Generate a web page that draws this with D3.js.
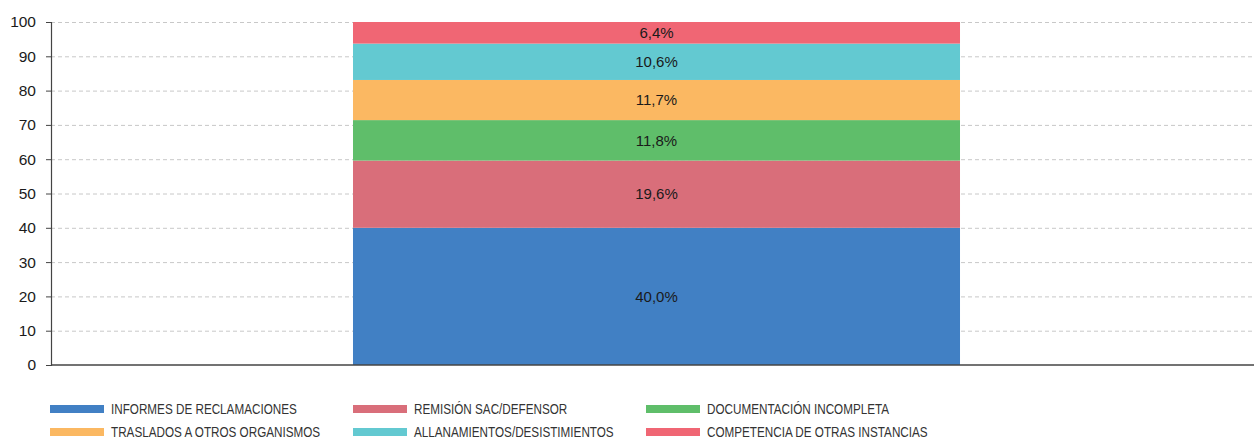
<!DOCTYPE html>
<html>
<head>
<meta charset="utf-8">
<script src="https://cdn.jsdelivr.net/npm/d3@7"></script>
<style>
  body { margin: 0; background: #fff; }
  svg text { font-family: "Liberation Sans", Arial, sans-serif; }
</style>
</head>
<body>
<div id="chart"></div>
<script>
const categories = ['INFORMES DE RECLAMACIONES', 'REMISIÓN SAC/DEFENSOR', 'DOCUMENTACIÓN INCOMPLETA',
    'TRASLADOS A OTROS ORGANISMOS', 'ALLANAMIENTOS/DESISTIMIENTOS', 'COMPETENCIA DE OTRAS INSTANCIAS']
const values = [40.0, 19.6, 11.8, 11.7, 10.6, 6.4]
const labels = ['40,0%', '19,6%', '11,8%', '11,7%', '10,6%', '6,4%']
const colors = ['#4180c4', '#d96e7a', '#5fbe6a', '#fbb862', '#63c9d1', '#f06674']
const yTicks = [0, 10, 20, 30, 40, 50, 60, 70, 80, 90, 100]

const WIDTH = 1254
const HEIGHT = 439
const MARGIN = { TOP: 22, RIGHT: 0, BOTTOM: 74, LEFT: 51 }

const svg = d3.select('#chart').append('svg')
    .attr('width', WIDTH)
    .attr('height', HEIGHT)

// band range runs slightly past the right edge so the bar sits where the original does
const x = d3.scaleBand()
    .domain(['total'])
    .range([MARGIN.LEFT, WIDTH + 8])
    .paddingInner(0)
    .paddingOuter(0.4975)

const y = d3.scaleLinear()
    .domain([0, 100])
    .range([HEIGHT - MARGIN.BOTTOM, MARGIN.TOP])

// gridlines
svg.append('g')
    .selectAll('line')
    .data(yTicks.filter(d => d > 0))
    .join('line')
    .attr('x1', MARGIN.LEFT)
    .attr('x2', WIDTH - MARGIN.RIGHT)
    .attr('y1', d => y(d) + 0.5)
    .attr('y2', d => y(d) + 0.5)
    .attr('stroke', '#c8c8c8')
    .attr('stroke-dasharray', '4,3')

// stacked segments
let acc = 0
const stacked = values.map((v, i) => {
    const seg = { y0: acc, y1: Math.min(acc + v, 100), color: colors[i], label: labels[i] }
    acc += v
    return seg
})

svg.append('g')
    .selectAll('rect')
    .data(stacked)
    .join('rect')
    .attr('x', x('total'))
    .attr('width', x.bandwidth())
    .attr('y', d => y(d.y1))
    .attr('height', d => y(d.y0) - y(d.y1))
    .attr('fill', d => d.color)

svg.append('g')
    .selectAll('text')
    .data(stacked)
    .join('text')
    .attr('x', x('total') + x.bandwidth() / 2)
    .attr('y', d => y((d.y0 + d.y1) / 2))
    .attr('dy', '0.35em')
    .attr('text-anchor', 'middle')
    .attr('font-size', 15)
    .attr('fill', '#1a1a1a')
    .text(d => d.label)

// y axis
const yAxis = svg.append('g')
    .attr('transform', `translate(${MARGIN.LEFT},0)`)
    .call(d3.axisLeft(y).tickValues(yTicks).tickSize(5).tickPadding(10))

yAxis.select('.domain').attr('stroke', '#444').attr('stroke-width', 1.2)
yAxis.selectAll('.tick line').attr('stroke', '#444')
yAxis.selectAll('.tick text')
    .attr('font-size', 15.5)
    .attr('fill', '#1a1a1a')
    .style('font-family', '"Liberation Sans", Arial, sans-serif')

// baseline
svg.append('line')
    .attr('x1', MARGIN.LEFT)
    .attr('x2', WIDTH - MARGIN.RIGHT)
    .attr('y1', y(0))
    .attr('y2', y(0))
    .attr('stroke', '#444')
    .attr('stroke-width', 1.5)

// legend (condensed font look via textLength)
const legendCols = [50, 353, 646]
const legendRows = [409, 432]
const legend = svg.append('g').attr('class', 'legend')
    .selectAll('g')
    .data(categories)
    .join('g')
    .attr('transform', (d, i) => `translate(${legendCols[i % 3]},${legendRows[Math.floor(i / 3)]})`)

legend.append('rect')
    .attr('x', 0)
    .attr('y', -4)
    .attr('width', 54)
    .attr('height', 8)
    .attr('fill', (d, i) => colors[i])

legend.append('text')
    .attr('x', 61)
    .attr('y', 0)
    .attr('dy', '0.36em')
    .attr('font-size', 14)
    .attr('fill', '#333')
    .text(d => d)
    .each(function () {
        const len = this.getComputedTextLength()
        d3.select(this)
            .attr('textLength', len * 0.835)
            .attr('lengthAdjust', 'spacingAndGlyphs')
    })
</script>
</body>
</html>
